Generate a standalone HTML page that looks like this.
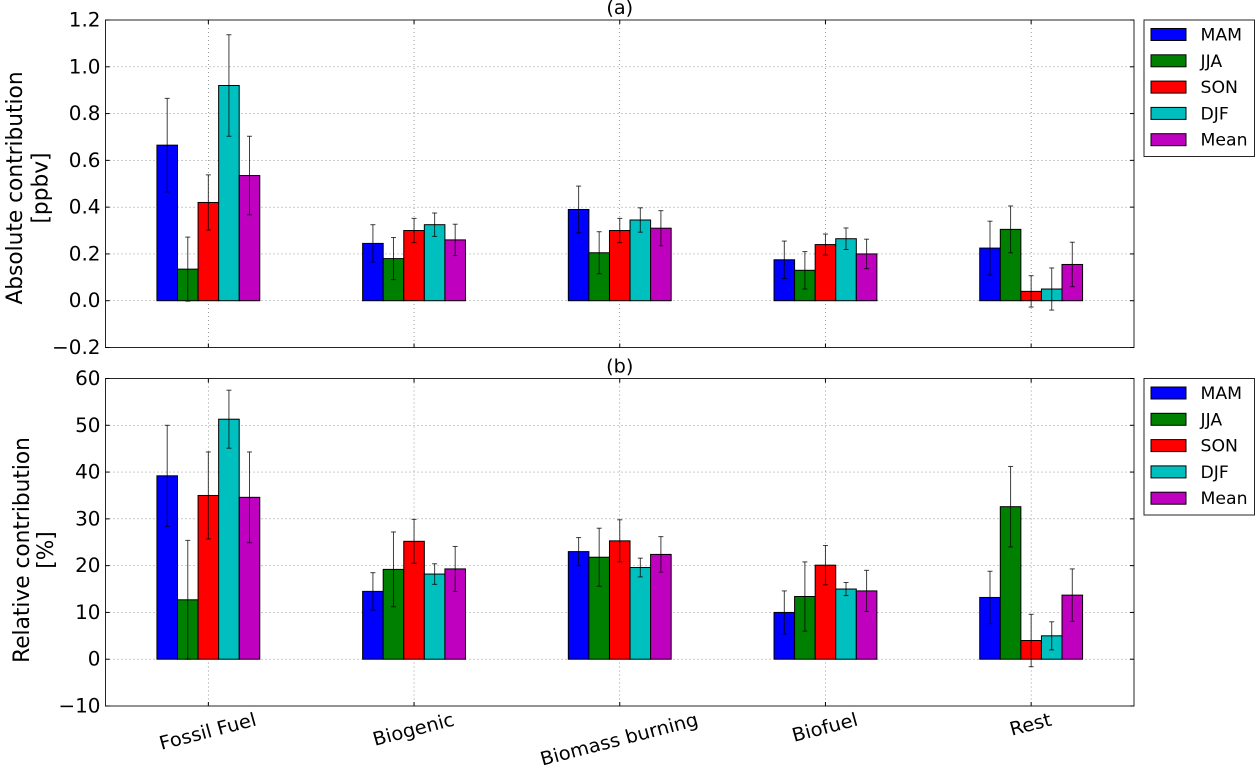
<!DOCTYPE html>
<html>
<head>
<meta charset="utf-8">
<title>Seasonal contribution by source</title>
<style>
html,body{margin:0;padding:0;background:#fff;}
svg{display:block;font-family:"DejaVu Sans","Liberation Sans",sans-serif;fill:#000;}
</style>
</head>
<body>
<svg id="chart" xmlns="http://www.w3.org/2000/svg" width="1256" height="768" viewBox="0 0 1256 768"></svg>
<script>
const categories = ["Fossil Fuel", "Biogenic", "Biomass burning", "Biofuel", "Rest"];
const seasons = ["MAM", "JJA", "SON", "DJF", "Mean"];
const colors = ["#0000ff", "#008000", "#ff0000", "#00bfbf", "#bf00bf"];

const absTicks = [-0.2, 0.0, 0.2, 0.4, 0.6, 0.8, 1.0, 1.2];
const absTickLabels = ["\u22120.2", "0.0", "0.2", "0.4", "0.6", "0.8", "1.0", "1.2"];
const absMam = [0.665, 0.245, 0.39, 0.175, 0.225];
const absJja = [0.135, 0.18, 0.205, 0.13, 0.305];
const absSon = [0.42, 0.30, 0.30, 0.24, 0.04];
const absDjf = [0.92, 0.325, 0.345, 0.265, 0.05];
const absMean = [0.535, 0.26, 0.31, 0.20, 0.155];
const absMamErr = [0.20, 0.08, 0.10, 0.08, 0.115];
const absJjaErr = [0.137, 0.09, 0.09, 0.08, 0.10];
const absSonErr = [0.118, 0.052, 0.052, 0.045, 0.067];
const absDjfErr = [0.217, 0.05, 0.052, 0.046, 0.09];
const absMeanErr = [0.168, 0.067, 0.075, 0.063, 0.095];

const relTicks = [-10, 0, 10, 20, 30, 40, 50, 60];
const relTickLabels = ["\u221210", "0", "10", "20", "30", "40", "50", "60"];
const relMam = [39.2, 14.5, 23.0, 10.0, 13.2];
const relJja = [12.7, 19.2, 21.8, 13.4, 32.6];
const relSon = [35.0, 25.2, 25.3, 20.1, 4.0];
const relDjf = [51.3, 18.2, 19.6, 15.0, 5.0];
const relMean = [34.6, 19.3, 22.4, 14.6, 13.7];
const relMamErr = [10.8, 4.0, 3.0, 4.6, 5.6];
const relJjaErr = [12.7, 8.0, 6.2, 7.4, 8.6];
const relSonErr = [9.3, 4.7, 4.5, 4.2, 5.6];
const relDjfErr = [6.2, 2.2, 2.0, 1.4, 3.0];
const relMeanErr = [9.7, 4.8, 3.8, 4.4, 5.6];

const NS = "http://www.w3.org/2000/svg";
const root = document.getElementById("chart");
const STRETCH = 1.04;

function make(parent, tag, attrs, text) {
  const el = document.createElementNS(NS, tag);
  for (const k in attrs) el.setAttribute(k, attrs[k]);
  if (text !== undefined) el.textContent = text;
  parent.appendChild(el);
  return el;
}
function named(el, name, inter) {
  
  
  return el;
}
function place(x, y, rot) {
  return "translate(" + x + "," + y + ") scale(" + STRETCH + ",1)" + (rot ? " rotate(" + rot + ")" : "");
}

const L = 105.5, R = 1134;
function xScale(v) { return L + (v + 0.5) / 5 * (R - L); }

function drawPanel(cfg) {
  const g = make(root, "g", {});
  named(g, cfg.id + "-panel", false);
  const yScale = v => cfg.bottom + (v - cfg.ymin) / (cfg.ymax - cfg.ymin) * (cfg.top - cfg.bottom);

  // grid
  cfg.ticks.forEach((t, i) => {
    const y = yScale(t);
    if (i > 0 && i < cfg.ticks.length - 1) {
      const gl = make(g, "line", {x1: L, x2: R, y1: y, y2: y, stroke: "#000", "stroke-width": 0.6, "stroke-dasharray": "1 3", "stroke-opacity": 0.65});
      named(gl, cfg.id + "-horizontal-gridline", false);
    }
  });
  categories.forEach((c, i) => {
    const x = xScale(i);
    const gl = make(g, "line", {x1: x, x2: x, y1: cfg.top, y2: cfg.bottom, stroke: "#000", "stroke-width": 0.6, "stroke-dasharray": "1 3", "stroke-opacity": 0.65});
    named(gl, cfg.id + "-vertical-gridline", false);
  });

  // bars
  const barW = (xScale(1) - xScale(0)) * 0.1;
  cfg.series.forEach((vals, s) => {
    vals.forEach((v, i) => {
      const x = xScale(i) + (s - 2.5) * barW;
      const y0 = yScale(0), y1 = yScale(v);
      const bar = make(g, "rect", {x: x, y: Math.min(y0, y1), width: barW, height: Math.abs(y1 - y0), fill: colors[s], stroke: "#000", "stroke-width": 1});
      named(bar, cfg.id + "-bar-" + seasons[s].toLowerCase(), false);
    });
  });
  // error bars
  cfg.series.forEach((vals, s) => {
    vals.forEach((v, i) => {
      const x = xScale(i) + (s - 2) * barW;
      const e = cfg.errors[s][i];
      const hi = yScale(v + e), lo = yScale(v - e);
      const eg = make(g, "g", {stroke: "#000", "stroke-width": 1, "stroke-opacity": 0.75});
      named(eg, cfg.id + "-error-bar-" + seasons[s].toLowerCase(), false);
      make(eg, "line", {x1: x, x2: x, y1: hi, y2: lo});
      make(eg, "line", {x1: x - 2.5, x2: x + 2.5, y1: hi, y2: hi});
      make(eg, "line", {x1: x - 2.5, x2: x + 2.5, y1: lo, y2: lo});
    });
  });

  // ticks
  cfg.ticks.forEach((t, i) => {
    const y = yScale(t);
    const a = make(g, "line", {x1: L, x2: L + 4, y1: y, y2: y, stroke: "#000", "stroke-width": 1});
    named(a, cfg.id + "-y-tick", false);
    const b = make(g, "line", {x1: R, x2: R - 4, y1: y, y2: y, stroke: "#000", "stroke-width": 1});
    named(b, cfg.id + "-y-tick-right", false);
    const lab = make(g, "text", {transform: place(L - 5, y + 6.5), "text-anchor": "end", "font-size": 19.2}, cfg.tickLabels[i]);
    named(lab, cfg.id + "-y-tick-label", false);
  });
  categories.forEach((c, i) => {
    const x = xScale(i);
    const a = make(g, "line", {x1: x, x2: x, y1: cfg.bottom, y2: cfg.bottom - 4, stroke: "#000", "stroke-width": 1});
    named(a, cfg.id + "-x-tick", false);
    const b = make(g, "line", {x1: x, x2: x, y1: cfg.top, y2: cfg.top + 4, stroke: "#000", "stroke-width": 1});
    named(b, cfg.id + "-x-tick-top", false);
  });

  // frame
  const frame = make(g, "rect", {x: L, y: cfg.top, width: R - L, height: cfg.bottom - cfg.top, fill: "none", stroke: "#000", "stroke-opacity": 0.85, "stroke-width": 1});
  named(frame, cfg.id + "-axes-frame", false);

  // title
  const title = make(g, "text", {transform: place((L + R) / 2, cfg.top - 6), "text-anchor": "middle", "font-size": 18.5}, cfg.title);
  named(title, cfg.id + "-title", false);

  // y label (two lines)
  const l1 = make(g, "text", {transform: place(cfg.labelX1, cfg.labelY, -90), "text-anchor": "middle", "font-size": 21.7}, cfg.label1);
  named(l1, cfg.id + "-y-axis-title", false);
  const l2 = make(g, "text", {transform: place(cfg.labelX2, cfg.labelY, -90), "text-anchor": "middle", "font-size": 21.7}, cfg.label2);
  named(l2, cfg.id + "-y-axis-unit", false);

  // legend
  const lg = make(g, "g", {});
  named(lg, cfg.id + "-legend", false);
  const lb = make(lg, "rect", {x: 1144, y: cfg.top, width: 110.5, height: 136.5, fill: "#fff", stroke: "#000", "stroke-opacity": 0.85, "stroke-width": 1});
  named(lb, cfg.id + "-legend-frame", false);
  seasons.forEach((s, i) => {
    const cy = cfg.top + 14.5 + i * 26.3;
    const e = make(lg, "g", {});
    named(e, cfg.id + "-legend-entry-" + s.toLowerCase(), false);
    make(e, "rect", {x: 1151, y: cy - 6, width: 35, height: 12, fill: colors[i], stroke: "#000", "stroke-width": 1});
    make(e, "text", {transform: place(1200.5, cy + 6), "font-size": 16.6}, s);
  });
}

drawPanel({
  id: "absolute", top: 20, bottom: 347.5, ymin: -0.2, ymax: 1.2,
  ticks: absTicks, tickLabels: absTickLabels,
  series: [absMam, absJja, absSon, absDjf, absMean],
  errors: [absMamErr, absJjaErr, absSonErr, absDjfErr, absMeanErr],
  title: "(a)", label1: "Absolute contribution", label2: "[ppbv]",
  labelX1: 22, labelX2: 47.5, labelY: 188
});
drawPanel({
  id: "relative", top: 378.5, bottom: 706, ymin: -10, ymax: 60,
  ticks: relTicks, tickLabels: relTickLabels,
  series: [relMam, relJja, relSon, relDjf, relMean],
  errors: [relMamErr, relJjaErr, relSonErr, relDjfErr, relMeanErr],
  title: "(b)", label1: "Relative contribution", label2: "[%]",
  labelX1: 29, labelX2: 53, labelY: 550
});

// rotated category labels, top-aligned like the source axis
categories.forEach((c, i) => {
  const t = make(root, "text", {"text-anchor": "middle", "font-size": 18.7, "dominant-baseline": "central"}, c);
  
  
  const w = t.getComputedTextLength();
  const rad = 15 * Math.PI / 180;
  t.setAttribute("transform", place(xScale(i) - 0.5, 719.5 + w * Math.sin(rad) / 2, -15));
});
</script>
</body>
</html>
